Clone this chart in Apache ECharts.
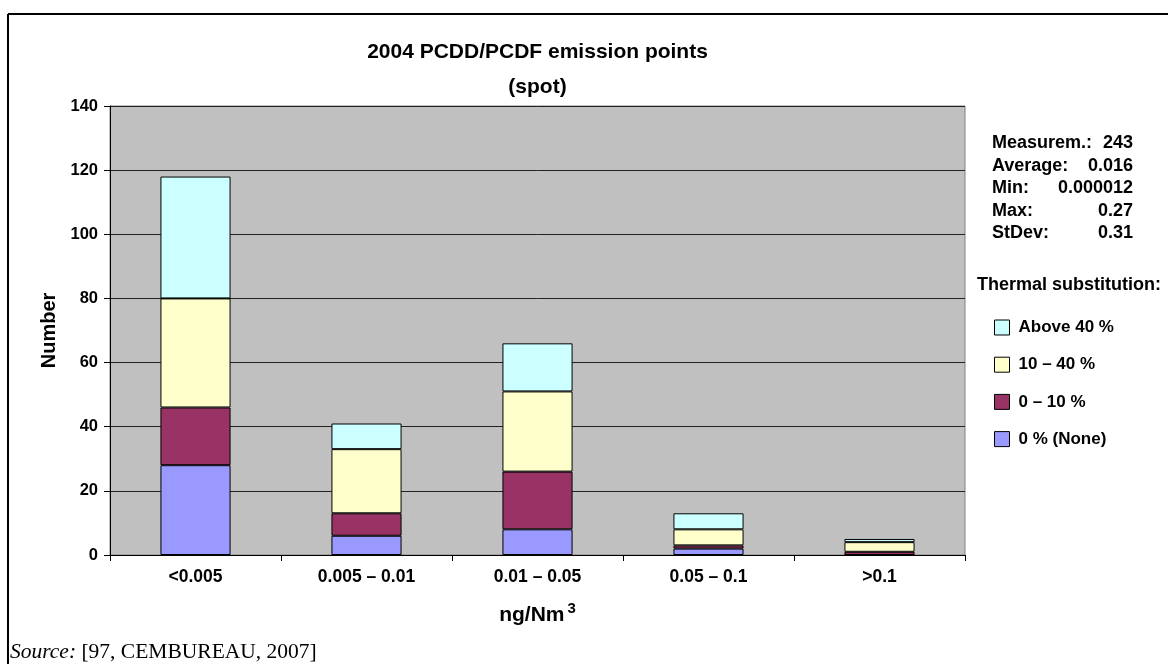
<!DOCTYPE html>
<html>
<head>
<meta charset="utf-8">
<script src="https://cdn.jsdelivr.net/npm/echarts@6/dist/echarts.min.js"></script>
<style>
html,body{margin:0;padding:0;background:#fff;}
#chart{width:1168px;height:664px;}
</style>
</head>
<body>
<div id="chart"></div>
<script>
var categories = ['<0.005', '0.005 – 0.01', '0.01 – 0.05', '0.05 – 0.1', '>0.1'];
var seriesNames = ['0 % (None)', '0 – 10 %', '10 – 40 %', 'Above 40 %'];
var none0 = [28, 6, 8, 2, 0];
var upTo10 = [18, 7, 18, 1, 1];
var from10to40 = [34, 20, 25, 5, 3];
var above40 = [38, 8, 15, 5, 1];
var yTicks = [0, 20, 40, 60, 80, 100, 120, 140];
var statLabels = ['Measurem.:', 'Average:', 'Min:', 'Max:', 'StDev:'];
var statValues = ['243', '0.016', '0.000012', '0.27', '0.31'];
var colors = ['#9999FF', '#993366', '#FFFFCC', '#CCFFFF'];

var FONT = '"Liberation Sans", Arial, sans-serif';
var SERIF = '"Liberation Serif", "Times New Roman", serif';
var chart = echarts.init(document.getElementById('chart'), null, {renderer: 'canvas'});

var seriesData = [none0, upTo10, from10to40, above40];
var series = seriesData.map(function (d, i) {
  return {
    name: seriesNames[i],
    type: 'bar',
    stack: 'total',
    data: d,
    barCategoryGap: '59%',
    itemStyle: {color: colors[i], borderColor: '#000', borderWidth: 1},
    emphasis: {disabled: true}
  };
});

var graphics = [
  {type: 'line', shape: {x1: 8, y1: 14, x2: 1168, y2: 14}, style: {stroke: '#000', lineWidth: 2}},
  {type: 'line', shape: {x1: 8, y1: 14, x2: 8, y2: 664}, style: {stroke: '#000', lineWidth: 2}},
  {type: 'text', x: 537.5, y: 52, style: {text: '2004 PCDD/PCDF emission points', font: 'bold 21px ' + FONT, fill: '#000', textAlign: 'center', textVerticalAlign: 'middle'}},
  {type: 'text', x: 537.5, y: 87, style: {text: '(spot)', font: 'bold 21px ' + FONT, fill: '#000', textAlign: 'center', textVerticalAlign: 'middle'}},
  {type: 'text', x: 977, y: 285, style: {text: 'Thermal substitution:', font: 'bold 18px ' + FONT, fill: '#000', textAlign: 'left', textVerticalAlign: 'middle'}},
  {type: 'text', x: 10, y: 652, style: {
    text: '{i|Source:} [97, CEMBUREAU, 2007]',
    font: '21.5px ' + SERIF, fill: '#000', textAlign: 'left', textVerticalAlign: 'middle',
    rich: {i: {fontStyle: 'italic', fontFamily: SERIF, fontSize: 21.5}}
  }}
];
statLabels.forEach(function (l, i) {
  var y = 143 + i * 22.6;
  graphics.push({type: 'text', x: 992, y: y, style: {text: l, font: 'bold 18px ' + FONT, fill: '#000', textAlign: 'left', textVerticalAlign: 'middle'}});
  graphics.push({type: 'text', x: 1133, y: y, style: {text: statValues[i], font: 'bold 18px ' + FONT, fill: '#000', textAlign: 'right', textVerticalAlign: 'middle'}});
});

chart.setOption({
  animation: false,
  textStyle: {fontFamily: FONT},
  grid: {left: 110, right: 203, top: 106, bottom: 109, show: true, backgroundColor: '#C0C0C0', borderColor: '#808080', borderWidth: 1, containLabel: false},
  legend: {
    orient: 'vertical', left: 994, top: 319, padding: 0,
    itemWidth: 15, itemHeight: 15, itemGap: 20.2,
    icon: 'rect',
    data: ['Above 40 %', '10 – 40 %', '0 – 10 %', '0 % (None)'],
    itemStyle: {borderColor: '#000', borderWidth: 1},
    textStyle: {fontFamily: FONT, fontWeight: 'bold', fontSize: 17, color: '#000', padding: [0, 0, 0, 4]},
    selectedMode: false
  },
  xAxis: {
    type: 'category',
    data: categories,
    axisLine: {lineStyle: {color: '#000', width: 1}},
    axisTick: {show: true, length: 6, lineStyle: {color: '#000'}},
    axisLabel: {fontFamily: FONT, fontWeight: 'bold', fontSize: 17.5, color: '#000', margin: 13},
    name: 'ng/Nm{sup|3}',
    nameLocation: 'middle',
    nameGap: 46,
    nameTextStyle: {fontFamily: FONT, fontWeight: 'bold', fontSize: 21, color: '#000',
      rich: {sup: {fontFamily: FONT, fontWeight: 'bold', fontSize: 15, verticalAlign: 'top', padding: [0, 0, 14, 3]}}}
  },
  yAxis: {
    type: 'value', min: yTicks[0], max: yTicks[yTicks.length - 1], interval: 20,
    axisLine: {show: true, lineStyle: {color: '#000', width: 1}},
    axisTick: {show: true, length: 6, lineStyle: {color: '#000'}},
    axisLabel: {fontFamily: FONT, fontWeight: 'bold', fontSize: 16.5, color: '#000', margin: 12},
    splitLine: {show: true, lineStyle: {color: '#222', width: 1}},
    name: 'Number', nameLocation: 'middle', nameRotate: 90, nameGap: 48,
    nameTextStyle: {fontFamily: FONT, fontWeight: 'bold', fontSize: 20, color: '#000'}
  },
  series: series,
  graphic: graphics
});
</script>
</body>
</html>
